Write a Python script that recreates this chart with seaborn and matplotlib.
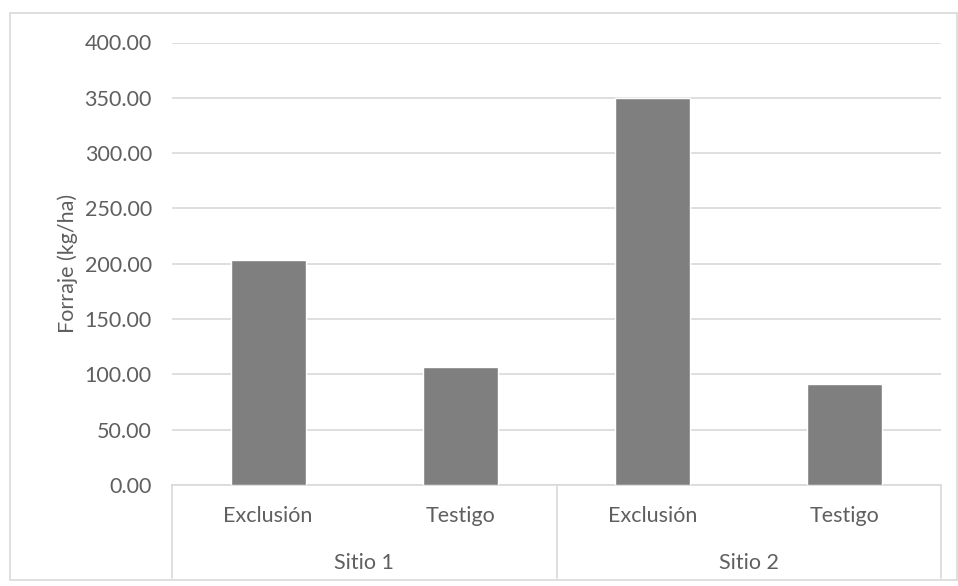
import matplotlib
matplotlib.use("Agg")
import matplotlib.pyplot as plt
import matplotlib.transforms as mtransforms
from matplotlib.patches import Rectangle
import seaborn as sns
import pandas as pd

# Forage yield per site and treatment
sitios = ["Sitio 1", "Sitio 1", "Sitio 2", "Sitio 2"]
tratamientos = ["Exclusión", "Testigo", "Exclusión", "Testigo"]
forraje = [203.0, 107.0, 350.0, 91.0]
yticks = [0, 50, 100, 150, 200, 250, 300, 350, 400]

df = pd.DataFrame({"sitio": sitios, "tratamiento": tratamientos, "forraje": forraje})
df["clave"] = df["sitio"] + " | " + df["tratamiento"]

sns.set_theme(style="white")
plt.rcParams["font.family"] = ["Lato", "DejaVu Sans"]

TXT = "#5f5f5f"
GRID = "#d9d9d9"
BAR = "#7f7f7f"

fig = plt.figure(figsize=(9.58, 5.86), dpi=100)
ax = fig.add_axes([172 / 958, 1 - 485 / 586, (941 - 172) / 958, (485 - 42.5) / 586])

sns.barplot(data=df, x="clave", y="forraje", color=BAR, width=0.39,
            saturation=1, ax=ax, zorder=3)

ax.set_ylim(0, 400)
ax.set_xlim(-0.5, len(df) - 0.5)
ax.set_yticks(yticks)
ax.set_yticklabels([f"{v:.2f}" for v in yticks], fontsize=15.5, color=TXT)
ax.yaxis.grid(True, color=GRID, linewidth=1.2, zorder=0)
ax.set_axisbelow(True)
ax.tick_params(axis="both", length=0)
ax.tick_params(axis="y", pad=14.5)

for s in ["top", "right", "left"]:
    ax.spines[s].set_visible(False)
ax.spines["bottom"].set_color(GRID)
ax.spines["bottom"].set_linewidth(1.2)

# Treatment labels as x tick labels
ax.set_xticks(range(len(df)))
ax.set_xticklabels(df["tratamiento"], fontsize=15.5, color=TXT)
ax.tick_params(axis="x", pad=15)
ax.set_xlabel("")
ax.set_ylabel("Forraje (kg/ha)", fontsize=15.5, color=TXT, labelpad=5)

# Site group labels and separators below the axis
trans = mtransforms.blended_transform_factory(ax.transData, ax.transAxes)
orden_sitios = list(dict.fromkeys(sitios))
for s in orden_sitios:
    idx = [i for i, v in enumerate(sitios) if v == s]
    ax.text(sum(idx) / len(idx), -0.176, s, transform=trans, ha="center",
            va="center", fontsize=15.5, color=TXT)
limites = [-0.5]
for s in orden_sitios:
    idx = [i for i, v in enumerate(sitios) if v == s]
    limites.append(max(idx) + 0.5)
for xb in limites:
    ax.plot([xb, xb], [0, -0.21], transform=trans, color=GRID,
            linewidth=1.2, clip_on=False)

# Chart frame
fig.patches.append(Rectangle((10 / 958, 1 - 580 / 586), (957 - 10) / 958,
                             (580 - 13) / 586, transform=fig.transFigure,
                             fill=False, edgecolor=GRID, linewidth=1.2))

fig.savefig("out.png", dpi=100)
